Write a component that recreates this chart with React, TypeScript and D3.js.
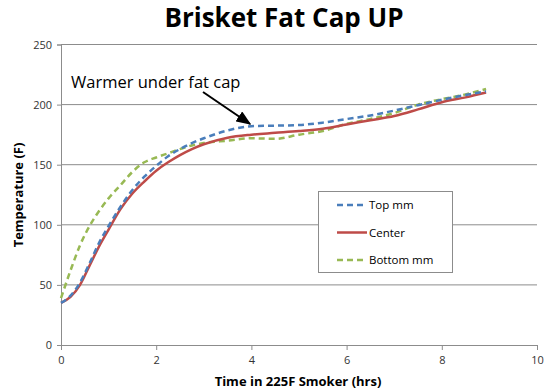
import React, { useEffect, useRef } from 'react';
import * as d3 from 'd3';

// hours in the smoker
const hours = [0, 0.2, 0.4, 0.6, 0.8, 1.0, 1.25, 1.5, 1.75, 2.0, 2.25, 2.5, 2.75, 3.0, 3.5, 4.0, 4.5, 5.0, 5.5, 6.0, 6.5, 7.0, 7.5, 8.0, 8.5, 8.93];
const topMm = [35, 41, 52, 68, 85, 99, 115, 129, 140, 149, 157, 163, 168, 172, 178.5, 182, 182.5, 183, 185, 188, 191, 195, 199.5, 204, 208, 211];
const center = [35, 40, 50, 66, 82, 96, 113, 126, 136, 145, 152, 158, 163, 167, 172.5, 175, 176.5, 178, 180, 183.5, 187, 190.5, 196, 202, 206, 210];
const bottomMm = [39, 62, 83, 99, 111.5, 122, 133, 144, 152, 156, 159.5, 163, 166, 168, 170, 172, 171.5, 175, 178, 184, 188, 193, 200, 204.5, 208.5, 213];

const xTicks = [0, 2, 4, 6, 8, 10];
const yTicks = [0, 50, 100, 150, 200, 250];

const seriesNames = ['Top mm', 'Center', 'Bottom mm'];
const seriesColors = ['#4a7ebb', '#be4b48', '#98b954'];
const seriesDash = ['6,4', null, '6,4'];

const App = () => {
  const ref = useRef(null);

  useEffect(() => {
    const svg = d3.select(ref.current);
    svg.selectAll('*').remove();

    const x = d3.scaleLinear().domain([0, 10]).range([61, 537]);
    const y = d3.scaleLinear().domain([0, 250]).range([345, 44.5]);
    const font = "'Open Sans', sans-serif";

    // gridlines
    svg.selectAll('line.grid')
      .data(yTicks.slice(1))
      .enter()
      .append('line')
      .attr('class', 'grid')
      .attr('x1', x(0))
      .attr('x2', x(10))
      .attr('y1', d => y(d))
      .attr('y2', d => y(d))
      .attr('stroke', '#8c8c8c')
      .attr('stroke-width', 1);

    // y axis
    const yAxis = svg.append('g')
      .attr('transform', 'translate(' + x(0) + ',0)')
      .call(d3.axisLeft(y).tickValues(yTicks).tickSize(4).tickPadding(5));
    // x axis
    const xAxis = svg.append('g')
      .attr('transform', 'translate(0,' + y(0) + ')')
      .call(d3.axisBottom(x).tickValues(xTicks).tickSize(5).tickPadding(6));

    [xAxis, yAxis].forEach(ax => {
      ax.select('.domain').attr('stroke', '#8c8c8c');
      ax.selectAll('.tick line').attr('stroke', '#8c8c8c');
      ax.selectAll('.tick text')
        .attr('fill', '#333')
        .style('font-family', font)
        .style('font-size', '11px');
    });

    // lines
    const allSeries = [topMm, center, bottomMm];
    [2, 1, 0].forEach(i => {
      const line = d3.line()
        .x((d, j) => x(hours[j]))
        .y(d => y(d))
        .curve(d3.curveMonotoneX);
      svg.append('path')
        .datum(allSeries[i])
        .attr('d', line)
        .attr('fill', 'none')
        .attr('stroke', seriesColors[i])
        .attr('stroke-width', 2.5)
        .attr('stroke-dasharray', seriesDash[i]);
    });

    // title
    svg.append('text')
      .attr('x', 284)
      .attr('y', 27)
      .attr('text-anchor', 'middle')
      .style('font-family', font)
      .style('font-weight', 'bold')
      .style('font-size', '26px')
      .text('Brisket Fat Cap UP');

    // axis titles
    svg.append('text')
      .attr('x', 298)
      .attr('y', 386)
      .attr('text-anchor', 'middle')
      .style('font-family', font)
      .style('font-weight', 'bold')
      .style('font-size', '13px')
      .text('Time in 225F Smoker (hrs)');
    svg.append('text')
      .attr('transform', 'translate(23,195) rotate(-90)')
      .attr('text-anchor', 'middle')
      .style('font-family', font)
      .style('font-weight', 'bold')
      .style('font-size', '13px')
      .text('Temperature (F)');

    // annotation
    svg.append('text')
      .attr('x', 71)
      .attr('y', 88)
      .style('font-family', font)
      .style('font-size', '16.5px')
      .text('Warmer under fat cap');
    svg.append('defs')
      .append('marker')
      .attr('id', 'arrow')
      .attr('viewBox', '0 0 10 10')
      .attr('refX', 9)
      .attr('refY', 5)
      .attr('markerWidth', 7.5)
      .attr('markerHeight', 6)
      .attr('markerUnits', 'strokeWidth')
      .attr('orient', 'auto')
      .attr('preserveAspectRatio', 'none')
      .append('path')
      .attr('d', 'M0,0 L10,5 L0,10 z')
      .attr('fill', '#000');
    svg.append('line')
      .attr('x1', 203)
      .attr('y1', 92)
      .attr('x2', 250)
      .attr('y2', 124)
      .attr('stroke', '#000')
      .attr('stroke-width', 2)
      .attr('marker-end', 'url(#arrow)');

    // legend
    const legend = svg.append('g');
    legend.append('rect')
      .attr('x', 318.5)
      .attr('y', 191.5)
      .attr('width', 134)
      .attr('height', 81)
      .attr('fill', '#fff')
      .attr('stroke', '#8c8c8c');
    seriesNames.forEach((name, i) => {
      const ly = 205 + i * 27.5;
      legend.append('line')
        .attr('x1', 337)
        .attr('x2', 367)
        .attr('y1', ly)
        .attr('y2', ly)
        .attr('stroke', seriesColors[i])
        .attr('stroke-width', 2.5)
        .attr('stroke-dasharray', seriesDash[i]);
      legend.append('text')
        .attr('x', 369)
        .attr('y', ly + 4)
        .style('font-family', font)
        .style('font-size', '11.5px')
        .text(name);
    });
  }, []);

  return (
    <svg ref={ref} width={550} height={392}
      style={{ position: 'absolute', left: 0, top: 0, background: '#fff' }} />
  );
};

export default App;
